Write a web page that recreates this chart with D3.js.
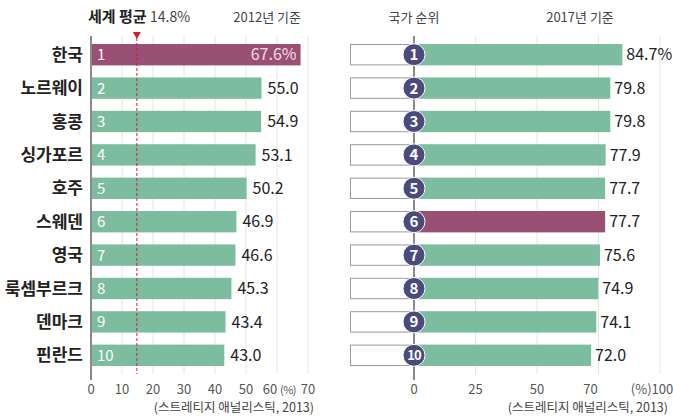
<!DOCTYPE html>
<html>
<head>
<meta charset="utf-8" />
<script src="https://d3js.org/d3.v7.min.js"></script>
<style>
  body { margin: 0; background: #fff; }
  text { font-family: "Noto Sans CJK KR", "Noto Sans", sans-serif; }
</style>
</head>
<body>
<svg id="viz" width="673" height="417"></svg>
<script>
// data
var countries = ["한국", "노르웨이", "홍콩", "싱가포르", "호주", "스웨덴", "영국", "룩셈부르크", "덴마크", "핀란드"];
var values2012 = [67.6, 55.0, 54.9, 53.1, 50.2, 46.9, 46.6, 45.3, 43.4, 43.0];
var values2017 = [84.7, 79.8, 79.8, 77.9, 77.7, 77.7, 75.6, 74.9, 74.1, 72.0];
var highlightLeft = 0;   // 한국
var highlightRight = 5;  // rank 6
var worldAvg = 14.8;
var leftTicks = [0, 10, 20, 30, 40, 50, 60, 70];
var rightTicks = [0, 25, 50, 75, 100];
var rightTickLabels = ["0", "25", "50", "70", "(%)100"];

var green = "#7dbd9f", purple = "#9a4f75", navy = "#4b4a7c", grid = "#e4e4e4";

var svg = d3.select("#viz");
var ranks = d3.range(1, 11);

var y = d3.scaleBand().domain(ranks).range([38, 372]).paddingInner(0.36).paddingOuter(0.18);

// ---------- left panel ----------
var xL = d3.scaleLinear().domain([0, 70]).range([91, 308]);
var left = svg.append("g");

left.selectAll("line.grid").data(leftTicks.slice(1)).enter().append("line")
  .attr("x1", d => xL(d)).attr("x2", d => xL(d))
  .attr("y1", 36).attr("y2", 374)
  .attr("stroke", grid).attr("stroke-width", 1);

left.selectAll("rect.bar").data(values2012).enter().append("rect")
  .attr("x", xL(0)).attr("y", (d, i) => y(i + 1))
  .attr("width", d => xL(d) - xL(0)).attr("height", y.bandwidth())
  .attr("fill", (d, i) => i === highlightLeft ? purple : green);

left.append("line")
  .attr("x1", xL(0)).attr("x2", xL(0)).attr("y1", 36).attr("y2", 380)
  .attr("stroke", "#8a8a8a").attr("stroke-width", 2);

// world average
left.append("line")
  .attr("x1", xL(worldAvg)).attr("x2", xL(worldAvg)).attr("y1", 38).attr("y2", 374)
  .attr("stroke", "#c8232c").attr("stroke-width", 1).attr("stroke-dasharray", "3,2");
left.append("path")
  .attr("d", "M" + (xL(worldAvg) - 4) + ",32 L" + (xL(worldAvg) + 4) + ",32 L" + xL(worldAvg) + ",39 Z")
  .attr("fill", "#c8232c");

left.selectAll("text.country").data(countries).enter().append("text")
  .attr("x", 83).attr("y", (d, i) => y(i + 1) + y.bandwidth() / 2)
  .attr("dy", "0.36em").attr("text-anchor", "end")
  .attr("font-size", 17).attr("font-weight", "bold").attr("fill", "#222")
  .text(d => d);

left.selectAll("text.rank").data(values2012).enter().append("text")
  .attr("x", 97).attr("y", (d, i) => y(i + 1) + y.bandwidth() / 2)
  .attr("dy", "0.36em").attr("font-size", 15).attr("fill", "#fff")
  .text((d, i) => i + 1);

left.selectAll("text.val").data(values2012).enter().append("text")
  .attr("x", (d, i) => i === 0 ? xL(d) - 4 : xL(d) + 6)
  .attr("y", (d, i) => y(i + 1) + y.bandwidth() / 2)
  .attr("dy", "0.36em").attr("text-anchor", (d, i) => i === 0 ? "end" : "start")
  .attr("font-size", 16).attr("fill", (d, i) => i === 0 ? "#f3dce6" : "#222")
  .text((d, i) => i === 0 ? d.toFixed(1) + "%" : d.toFixed(1));

left.selectAll("text.tick").data(leftTicks).enter().append("text")
  .attr("x", d => d === 60 ? xL(d) - 7 : xL(d)).attr("y", 394)
  .attr("text-anchor", "middle").attr("font-size", 13).attr("fill", "#555")
  .text(d => d);
left.append("text").attr("x", xL(60) + 11).attr("y", 394).attr("text-anchor", "middle")
  .attr("font-size", 11).attr("letter-spacing", -0.5).attr("fill", "#555").text("(%)");

left.append("text").attr("x", 88).attr("y", 22).attr("font-size", 15).attr("fill", "#222")
  .call(t => {
    t.append("tspan").attr("font-weight", "bold").text("세계 평균 ");
    t.append("tspan").attr("fill", "#444").attr("font-size", 14).text(worldAvg + "%");
  });
left.append("text").attr("x", 301).attr("y", 22).attr("text-anchor", "end")
  .attr("font-size", 13).attr("fill", "#444").text("2012년 기준");
left.append("text").attr("x", 314).attr("y", 412).attr("text-anchor", "end")
  .attr("font-size", 12.5).attr("fill", "#444").text("(스트레티지 애널리스틱, 2013)");

// ---------- right panel ----------
var xR = d3.scaleLinear().domain([0, 100]).range([414, 660]);
var right = svg.append("g");

right.selectAll("line.grid").data(rightTicks.slice(1)).enter().append("line")
  .attr("x1", d => xR(d)).attr("x2", d => xR(d))
  .attr("y1", 36).attr("y2", 374)
  .attr("stroke", grid).attr("stroke-width", 1);

right.selectAll("rect.box").data(values2017).enter().append("rect")
  .attr("x", 350.5).attr("y", (d, i) => y(i + 1) + 0.5)
  .attr("width", xR(0) - 350.5).attr("height", y.bandwidth() - 1)
  .attr("fill", "#fff").attr("stroke", "#9a9a9a").attr("stroke-width", 1);

right.selectAll("rect.bar").data(values2017).enter().append("rect")
  .attr("x", xR(0)).attr("y", (d, i) => y(i + 1))
  .attr("width", d => xR(d) - xR(0)).attr("height", y.bandwidth())
  .attr("fill", (d, i) => i === highlightRight ? purple : green);

right.append("line")
  .attr("x1", xR(0)).attr("x2", xR(0)).attr("y1", 36).attr("y2", 380)
  .attr("stroke", "#8a8a8a").attr("stroke-width", 2);

right.selectAll("circle").data(values2017).enter().append("circle")
  .attr("cx", xR(0)).attr("cy", (d, i) => y(i + 1) + y.bandwidth() / 2)
  .attr("r", 11).attr("fill", navy).attr("stroke", "#fff").attr("stroke-width", 1);

right.selectAll("text.rank").data(values2017).enter().append("text")
  .attr("x", xR(0)).attr("y", (d, i) => y(i + 1) + y.bandwidth() / 2)
  .attr("dy", "0.36em").attr("text-anchor", "middle")
  .attr("font-size", (d, i) => i === 9 ? 13 : 15).attr("font-weight", "bold").attr("fill", "#fff")
  .attr("letter-spacing", (d, i) => i === 9 ? -1 : 0)
  .text((d, i) => i + 1);

right.selectAll("text.val").data(values2017).enter().append("text")
  .attr("x", d => xR(d) + 4).attr("y", (d, i) => y(i + 1) + y.bandwidth() / 2)
  .attr("dy", "0.36em").attr("font-size", 16).attr("fill", "#222")
  .text((d, i) => i === 0 ? d.toFixed(1) + "%" : d.toFixed(1));

right.selectAll("text.tick").data(rightTicks).enter().append("text")
  .attr("x", (d, i) => d === 75 ? xR(d) - 8 : d === 100 ? xR(d) - 8 : xR(d)).attr("y", 394)
  .attr("text-anchor", "middle").attr("font-size", 13).attr("fill", "#555")
  .text((d, i) => rightTickLabels[i]);

right.append("text").attr("x", xR(0)).attr("y", 22).attr("text-anchor", "middle")
  .attr("font-size", 13).attr("fill", "#444").text("국가 순위");
right.append("text").attr("x", 580).attr("y", 22).attr("text-anchor", "middle")
  .attr("font-size", 13).attr("fill", "#444").text("2017년 기준");
right.append("text").attr("x", 668).attr("y", 412).attr("text-anchor", "end")
  .attr("font-size", 12.5).attr("fill", "#444").text("(스트레티지 애널리스틱, 2013)");
</script>
</body>
</html>
